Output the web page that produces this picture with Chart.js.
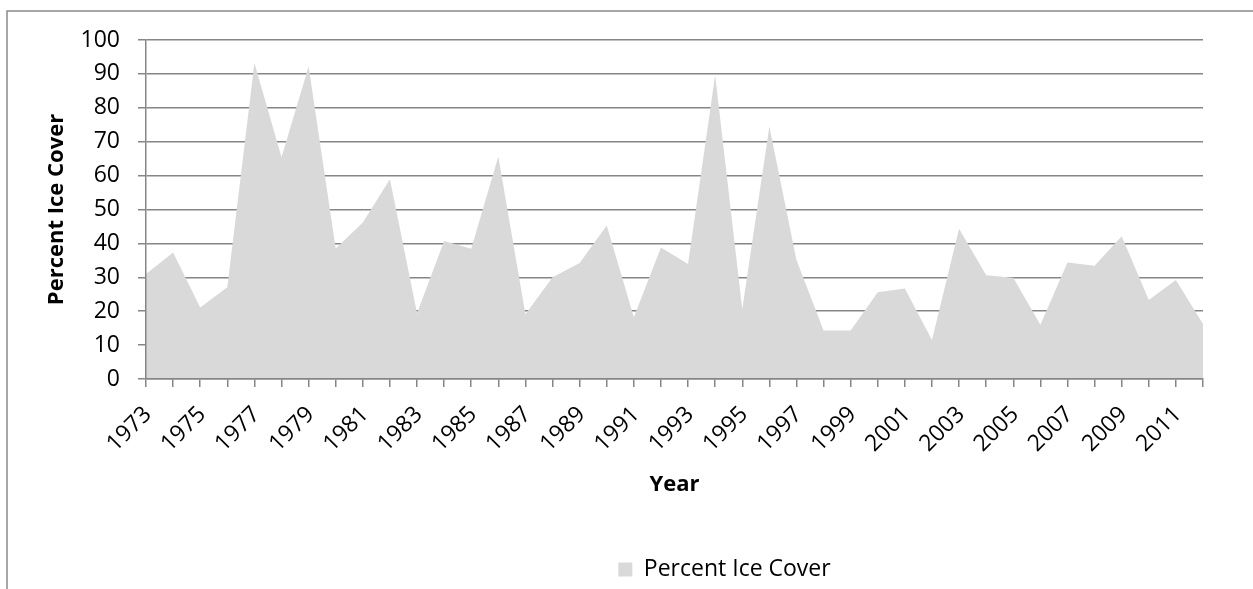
<!DOCTYPE html>
<html lang="en">
  <head>
    <meta charset="UTF-8" />
    <title>Percent Ice Cover</title>
    <script src="https://cdn.jsdelivr.net/npm/chart.js@4.4.1/dist/chart.umd.min.js"></script>
    <style>
      html, body { margin: 0; padding: 0; background: #ffffff; }
      #wrap { width: 1253px; height: 589px; }
    </style>
  </head>
  <body>
    <div id="wrap">
      <canvas id="ice-chart" width="1253" height="589"></canvas>
    </div>
    <script>
      // yearly ice cover, 1973 - 2012
      const years = [];
      for (let y = 1973; y <= 2012; y++) years.push(String(y));

      const iceCover = [
        31.0, 37.3, 21.1, 27.1, 93.2, 65.4, 92.2, 38.5, 46.2, 58.9,
        19.4, 40.7, 38.4, 65.6, 19.1, 30.0, 34.2, 45.3, 18.2, 38.8,
        33.9, 89.6, 20.6, 74.5, 35.1, 14.3, 14.3, 25.6, 26.7, 11.5,
        44.3, 30.6, 29.9, 16.0, 34.4, 33.4, 42.1, 23.3, 29.2, 16.2
      ];

      const seriesName = "Percent Ice Cover";
      const xTitle = "Year";
      const yTitle = "Percent Ice Cover";

      const axisGray = "#868686";
      const fillGray = "#d9d9d9";
      const fontFamily = "'Open Sans', sans-serif";

      // outer frame of the chart
      const frame = {
        id: "frame",
        beforeDraw(chart) {
          const ctx = chart.ctx;
          ctx.save();
          ctx.fillStyle = "#ffffff";
          ctx.fillRect(0, 0, chart.width, chart.height);
          ctx.strokeStyle = "#8a8a8a";
          ctx.lineWidth = 1.5;
          ctx.strokeRect(7, 11, chart.width + 20, chart.height + 20);
          ctx.restore();
        },
      };

      // legend sits right of centre
      const legendShift = {
        id: "legendShift",
        afterLayout(chart) {
          chart.legend.left += 119;
          chart.legend.right += 119;
        },
      };

      new Chart(document.getElementById("ice-chart"), {
        type: "line",
        data: {
          labels: years,
          datasets: [
            {
              label: seriesName,
              data: iceCover,
              fill: "origin",
              backgroundColor: fillGray,
              borderColor: fillGray,
              borderWidth: 0,
              pointRadius: 0,
              tension: 0,
            },
          ],
        },
        plugins: [frame, legendShift],
        options: {
          responsive: false,
          animation: false,
          layout: { padding: { left: 8, top: 40, right: 50, bottom: -2 } },
          plugins: {
            tooltip: { enabled: false },
            legend: {
              position: "bottom",
              labels: {
                boxWidth: 14,
                boxHeight: 14,
                padding: 6,
                color: "#000000",
                font: { family: fontFamily, size: 23 },
              },
            },
          },
          scales: {
            x: {
              afterFit: (scale) => { scale.height = 173; },
              border: { color: axisGray, width: 1.5, z: 1 },
              grid: { drawOnChartArea: false, drawTicks: true, tickLength: 8, tickColor: axisGray, lineWidth: 1.5 },
              ticks: {
                autoSkip: false,
                minRotation: 45,
                maxRotation: 45,
                labelOffset: 2,
                padding: 14,
                color: "#000000",
                font: { family: fontFamily, size: 23 },
                callback: (v, i) => (i % 2 === 0 ? years[i] : ""),
              },
              title: {
                display: true,
                text: xTitle,
                color: "#000000",
                font: { family: fontFamily, size: 22, weight: "bold" },
                padding: { top: 0, bottom: 54 },
              },
            },
            y: {
              min: 0,
              max: 100,
              afterFit: (scale) => { scale.width = 138; },
              border: { color: axisGray, width: 1.5, z: 1 },
              grid: { color: axisGray, lineWidth: 1.5, drawTicks: true, tickLength: 8 },
              ticks: {
                stepSize: 10,
                padding: 18,
                color: "#000000",
                font: { family: fontFamily, size: 23 },
              },
              title: {
                display: true,
                text: yTitle,
                color: "#000000",
                font: { family: fontFamily, size: 22, weight: "bold" },
                padding: { top: 36, bottom: 0 },
              },
            },
          },
        },
      });
    </script>
  </body>
</html>
